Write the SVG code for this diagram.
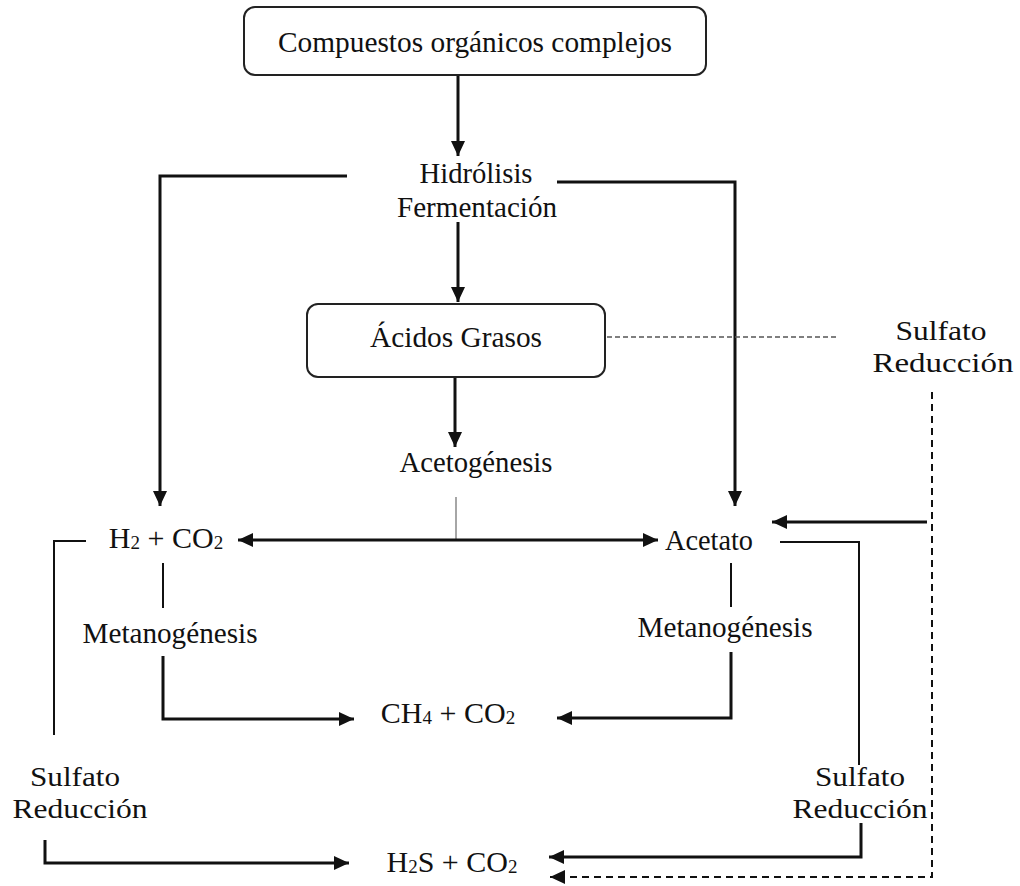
<svg xmlns="http://www.w3.org/2000/svg" width="1020" height="886" viewBox="0 0 1020 886">
<style>
text{font-family:"Liberation Serif","Times New Roman",serif;fill:#111;text-anchor:middle}
.m{font-size:30px}
.s{font-size:28px}
.sub{font-size:19px}
.box{fill:#fff;stroke:#222;stroke-width:2}
.c{fill:none;stroke:#111;stroke-width:3}
.t{fill:none;stroke:#111;stroke-width:2}
.g{fill:none;stroke:#888;stroke-width:1.5}
.d{fill:none;stroke:#111;stroke-width:2;stroke-dasharray:7 5}
.dl{fill:none;stroke:#555;stroke-width:1.5;stroke-dasharray:5 3}
</style>
<defs>
<marker id="ah" markerUnits="userSpaceOnUse" markerWidth="16" markerHeight="16" refX="15" refY="8" orient="auto">
<path d="M0,1 L15,8 L0,15 z" fill="#111"/>
</marker>
<marker id="as" markerUnits="userSpaceOnUse" markerWidth="16" markerHeight="16" refX="1" refY="8" orient="auto">
<path d="M16,1 L1,8 L16,15 z" fill="#111"/>
</marker>
</defs>
<rect width="1020" height="886" fill="#fff"/>
<g id="connectors">
<path class="c" d="M458,76 V156" marker-end="url(#ah)"/>
<path class="c" d="M347,176 H160 V506" marker-end="url(#ah)"/>
<path class="c" d="M557,182 H735 V506" marker-end="url(#ah)"/>
<path class="c" d="M458,222 V302" marker-end="url(#ah)"/>
<path class="c" d="M455,378 V447" marker-end="url(#ah)"/>
<path class="dl" d="M607,337 H836"/>
<path class="g" d="M456,497 V540"/>
<path class="c" d="M238,540 H658" marker-start="url(#as)" marker-end="url(#ah)"/>
<path class="t" d="M86,541 H54 V735"/>
<path class="t" d="M163,563 V608"/>
<path class="c" d="M163,656 V719 H354" marker-end="url(#ah)"/>
<path class="t" d="M731,563 V607"/>
<path class="c" d="M731,652 V718 H557" marker-end="url(#ah)"/>
<path class="t" d="M780,542 H859 V765"/>
<path class="c" d="M927,522 H772" marker-end="url(#ah)"/>
<path class="c" d="M45,840 V863 H349" marker-end="url(#ah)"/>
<path class="c" d="M861,823 V857 H549" marker-end="url(#ah)"/>
<path class="d" d="M932,392 V877 H550" marker-end="url(#ah)"/>
</g>
<g id="compuestos">
<rect class="box" x="244" y="7" width="462" height="68" rx="11"/>
<text class="m" x="475" y="52" textLength="394" lengthAdjust="spacingAndGlyphs">Compuestos orgánicos complejos</text>
</g>
<g id="hidrolisis">
<text class="m" x="476" y="183" textLength="113" lengthAdjust="spacingAndGlyphs">Hidrólisis</text>
<text class="m" x="477" y="217" textLength="160" lengthAdjust="spacingAndGlyphs">Fermentación</text>
</g>
<g id="acidos">
<rect class="box" x="307" y="304" width="298" height="73" rx="11"/>
<text class="m" x="456" y="347" textLength="172" lengthAdjust="spacingAndGlyphs">Ácidos Grasos</text>
</g>
<g id="sulfato-top">
<text class="s" x="941" y="340" textLength="91" lengthAdjust="spacingAndGlyphs">Sulfato</text>
<text class="s" x="943" y="372" textLength="141" lengthAdjust="spacingAndGlyphs">Reducción</text>
</g>
<g id="acetogenesis">
<text class="m" x="476" y="472" textLength="153" lengthAdjust="spacingAndGlyphs">Acetogénesis</text>
</g>
<g id="h2co2">
<text class="m" x="166" y="548">H<tspan class="sub" dy="1">2</tspan><tspan dy="-1"> + CO</tspan><tspan class="sub" dy="1">2</tspan></text>
</g>
<g id="acetato">
<text class="m" x="709" y="550" textLength="88" lengthAdjust="spacingAndGlyphs">Acetato</text>
</g>
<g id="metano-left">
<text class="m" x="170" y="643" textLength="175" lengthAdjust="spacingAndGlyphs">Metanogénesis</text>
</g>
<g id="metano-right">
<text class="m" x="725" y="637" textLength="175" lengthAdjust="spacingAndGlyphs">Metanogénesis</text>
</g>
<g id="ch4co2">
<text class="m" x="448" y="723">CH<tspan class="sub" dy="1">4</tspan><tspan dy="-1"> + CO</tspan><tspan class="sub" dy="1">2</tspan></text>
</g>
<g id="sulfato-left">
<text class="s" x="75" y="786" textLength="90" lengthAdjust="spacingAndGlyphs">Sulfato</text>
<text class="s" x="80" y="818" textLength="135" lengthAdjust="spacingAndGlyphs">Reducción</text>
</g>
<g id="sulfato-right">
<text class="s" x="860" y="786" textLength="90" lengthAdjust="spacingAndGlyphs">Sulfato</text>
<text class="s" x="860" y="818" textLength="135" lengthAdjust="spacingAndGlyphs">Reducción</text>
</g>
<g id="h2sco2">
<text class="m" x="452" y="872">H<tspan class="sub" dy="1">2</tspan><tspan dy="-1">S + CO</tspan><tspan class="sub" dy="1">2</tspan></text>
</g>
</svg>
